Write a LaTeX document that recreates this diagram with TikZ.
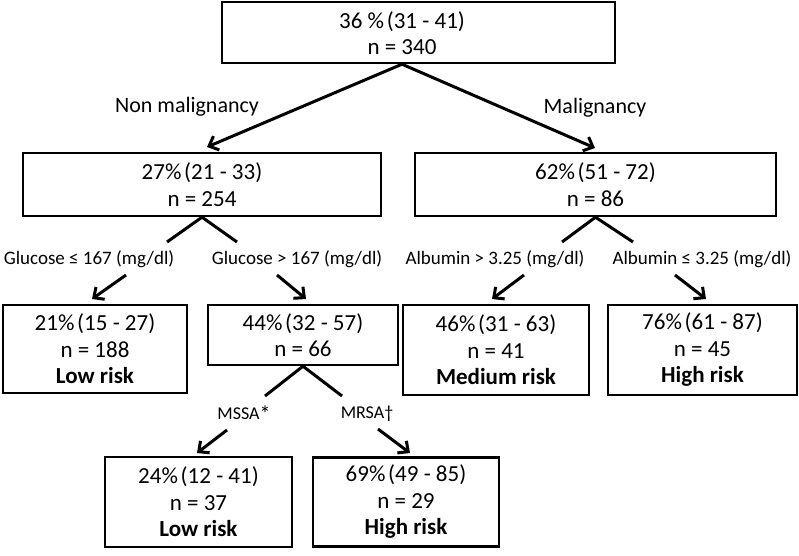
\documentclass[tikz,border=0pt]{standalone}
\usepackage{fontspec}
\setmainfont{Carlito}
\usetikzlibrary{arrows.meta,calc}
\newcommand{\pc}{\%\hspace{0.12em}}
\begin{document}
\begin{tikzpicture}[x=1pt,y=-1pt,
  box/.style={draw,line width=2.4pt,align=center,inner sep=0pt,font=\fontsize{23}{26.5}\selectfont},
  lbl/.style={inner sep=0pt,font=\fontsize{22}{26}\selectfont},
  slbl/.style={inner sep=0pt,font=\fontsize{19}{22}\selectfont},
  tlbl/.style={inner sep=0pt,font=\fontsize{18}{21}\selectfont},
  ln/.style={line width=3pt},
  arr/.style={line width=3pt,-{Straight Barb[length=8pt,width=15pt,line width=3pt]}}]
\useasboundingbox (0,0) rectangle (799,555);
% boxes
\node[box,minimum width=393,minimum height=61] (root) at (418.5,32.5) {};
\node[box,draw=none] (roottxt) at (402,33) {36 \pc(31 - 41)\\n = 340};
\node[box,minimum width=358,minimum height=63] (L1) at (202,184.5) {27\pc(21 - 33)\\n = 254};
\node[box,minimum width=361,minimum height=63] (R1) at (595.5,184.5) {62\pc(51 - 72)\\n = 86};
\node[box,minimum width=184,minimum height=88] (L2a) at (95,349) {21\pc(15 - 27)\\n = 188\\\textbf{Low risk}};
\node[box,minimum width=190,minimum height=60] (L2b) at (303,335) {44\pc(32 - 57)\\n = 66};
\node[box,minimum width=186,minimum height=90] (R2a) at (496,350) {46\pc(31 - 63)\\n = 41\\\textbf{Medium risk}};
\node[box,minimum width=189,minimum height=90] (R2b) at (702.5,350) {76\pc(61 - 87)\\n = 45\\\textbf{High risk}};
\node[box,minimum width=187,minimum height=90] (L3a) at (198.5,502) {24\pc(12 - 41)\\n = 37\\\textbf{Low risk}};
\node[box,minimum width=186,minimum height=89] (L3b) at (406,502) {69\pc(49 - 85)\\n = 29\\\textbf{High risk}};
% labels
\node[lbl] (nm) at (187,107) {Non malignancy};
\node[lbl] (m) at (595,108) {Malignancy};
\node[slbl] (g1) at (89,259) {Glucose ≤ 167 (mg/dl)};
\node[slbl] (g2) at (297,259) {Glucose > 167 (mg/dl)};
\node[slbl] (a1) at (495,259) {Albumin > 3.25 (mg/dl)};
\node[slbl] (a2) at (702,259) {Albumin ≤ 3.25 (mg/dl)};
\node[tlbl] (ms) at (244,414) {MSSA{\fontsize{22}{21}\selectfont\raisebox{-0.12em}{*}}};
\node[tlbl] (mr) at (367,414) {MRSA†};
% coordinates
\coordinate (rootapex) at (roottxt.center |- root.south);
\coordinate (t1) at (207,147);
\coordinate (t2) at (595,148);
\coordinate (l1a) at (167,242);
\coordinate (l1b) at (237,242);
\coordinate (r1a) at (562,242);
\coordinate (r1b) at (633,242);
\coordinate (g1s) at (126,275);
\coordinate (g1e) at (92,299);
\coordinate (g2s) at (277,275);
\coordinate (g2e) at (306,299);
\coordinate (a1s) at (524,275);
\coordinate (a1e) at (492,299);
\coordinate (a2s) at (675,275);
\coordinate (a2e) at (706,299);
\coordinate (l2a) at (265,396);
\coordinate (l2b) at (342,396);
\coordinate (ms1) at (227,430);
\coordinate (ms2) at (197,453);
\coordinate (mr1) at (378,429);
\coordinate (mr2) at (410,453);
% connectors
\draw[arr] (rootapex) -- (t1);
\draw[arr] (rootapex) -- (t2);
\draw[ln] (l1a) -- (L1.south) -- (l1b);
\draw[ln] (r1a) -- (R1.south) -- (r1b);
\draw[arr] (g1s) -- (g1e);
\draw[arr] (g2s) -- (g2e);
\draw[arr] (a1s) -- (a1e);
\draw[arr] (a2s) -- (a2e);
\draw[ln] (l2a) -- (L2b.south) -- (l2b);
\draw[arr] (ms1) -- (ms2);
\draw[arr] (mr1) -- (mr2);
\end{tikzpicture}
\end{document}
